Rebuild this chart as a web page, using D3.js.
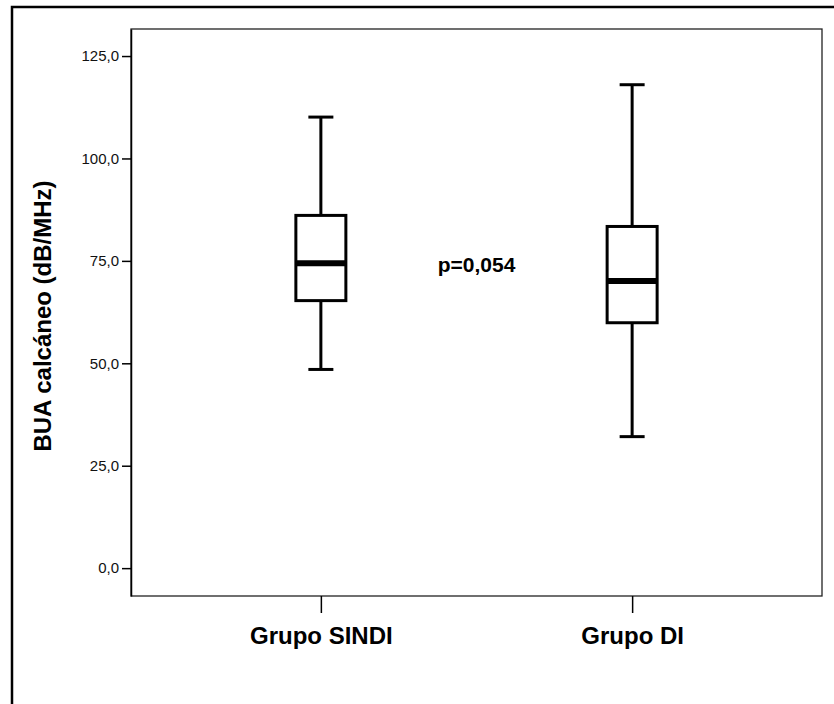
<!DOCTYPE html>
<html>
<head>
<meta charset="utf-8">
<script src="https://cdn.jsdelivr.net/npm/d3@7"></script>
<style>
  html, body { margin: 0; padding: 0; background: #fff; }
  svg { display: block; font-family: Arial, "Liberation Sans", sans-serif; }
</style>
</head>
<body>
<div id="chart"></div>
<script>
// Box plot values
var groups = ['Grupo SINDI', 'Grupo DI'];
var mins = [48.5, 32.1];
var q1s = [65.3, 59.9];
var medians = [74.4, 70.1];
var q3s = [86.1, 83.4];
var maxs = [110.1, 118.0];
var yTicks = [0, 25, 50, 75, 100, 125];
var pText = 'p=0,054';

var width = 834;
var height = 704;
var plot = { left: 131, right: 822, top: 29, bottom: 596 };

var svg = d3.select('#chart')
    .append('svg')
    .attr('width', width)
    .attr('height', height);

// outer frame (right and bottom run off the picture)
svg.append('rect')
    .attr('x', 12)
    .attr('y', 7)
    .attr('width', 840)
    .attr('height', 720)
    .attr('fill', 'none')
    .attr('stroke', '#000')
    .attr('stroke-width', 2.5);

// plot frame
svg.append('rect')
    .attr('x', plot.left)
    .attr('y', plot.top)
    .attr('width', plot.right - plot.left)
    .attr('height', plot.bottom - plot.top)
    .attr('fill', '#fff')
    .attr('stroke', '#222')
    .attr('stroke-width', 1.3);

var x = d3.scalePoint()
    .domain(groups)
    .range([plot.left, plot.right])
    .padding(0.61);

var y = d3.scaleLinear()
    .domain([-6.8, 131.6])
    .range([plot.bottom, plot.top]);

var fmt = d3.formatLocale({ decimal: ',', thousands: '.', grouping: [3], currency: ['', ''] }).format('.1f');

// y axis
var yAxis = svg.append('g')
    .attr('transform', `translate(${plot.left}, 0)`)
    .call(d3.axisLeft(y).tickValues(yTicks).tickSize(9).tickSizeOuter(0).tickPadding(3).tickFormat(fmt));
yAxis.select('.domain').attr('stroke', '#000').attr('stroke-width', 1.5);
yAxis.selectAll('.tick line').attr('stroke', '#000').attr('stroke-width', 1.5);
yAxis.selectAll('.tick text')
    .attr('font-size', '15px')
    .attr('fill', '#111')
    .attr('font-family', 'Arial, "Liberation Sans", sans-serif');

// x axis
var xAxis = svg.append('g')
    .attr('transform', `translate(0, ${plot.bottom})`)
    .call(d3.axisBottom(x).tickSize(17).tickPadding(14));
xAxis.select('.domain').remove();
xAxis.selectAll('.tick line').attr('stroke', '#000').attr('stroke-width', 1.5);
xAxis.selectAll('.tick text')
    .attr('font-size', '24px')
    .attr('font-weight', 'bold')
    .attr('fill', '#000')
    .attr('font-family', 'Arial, "Liberation Sans", sans-serif');

// y axis title
svg.append('text')
    .attr('transform', 'translate(51, 316) rotate(-90)')
    .attr('text-anchor', 'middle')
    .attr('font-size', '24px')
    .attr('font-weight', 'bold')
    .text('BUA calcáneo (dB/MHz)');

// boxes
var boxW = 50;
var capW = 25;
var data = groups.map((g, i) => ({
    group: g, min: mins[i], q1: q1s[i], med: medians[i], q3: q3s[i], max: maxs[i]
}));

var box = svg.append('g')
    .selectAll('g')
    .data(data)
    .join('g')
    .attr('stroke', '#000');

// whiskers
box.append('line')
    .attr('x1', d => x(d.group))
    .attr('x2', d => x(d.group))
    .attr('y1', d => y(d.max))
    .attr('y2', d => y(d.q3))
    .attr('stroke-width', 3);
box.append('line')
    .attr('x1', d => x(d.group))
    .attr('x2', d => x(d.group))
    .attr('y1', d => y(d.q1))
    .attr('y2', d => y(d.min))
    .attr('stroke-width', 3);

// caps
box.append('line')
    .attr('x1', d => x(d.group) - capW / 2)
    .attr('x2', d => x(d.group) + capW / 2)
    .attr('y1', d => y(d.max))
    .attr('y2', d => y(d.max))
    .attr('stroke-width', 3);
box.append('line')
    .attr('x1', d => x(d.group) - capW / 2)
    .attr('x2', d => x(d.group) + capW / 2)
    .attr('y1', d => y(d.min))
    .attr('y2', d => y(d.min))
    .attr('stroke-width', 3);

// box
box.append('rect')
    .attr('x', d => x(d.group) - boxW / 2)
    .attr('y', d => y(d.q3))
    .attr('width', boxW)
    .attr('height', d => y(d.q1) - y(d.q3))
    .attr('fill', '#fff')
    .attr('stroke-width', 3);

// median
box.append('line')
    .attr('x1', d => x(d.group) - boxW / 2)
    .attr('x2', d => x(d.group) + boxW / 2)
    .attr('y1', d => y(d.med))
    .attr('y2', d => y(d.med))
    .attr('stroke-width', 6);

// p value
svg.append('text')
    .attr('x', (x(groups[0]) + x(groups[1])) / 2)
    .attr('y', y(75) + 11)
    .attr('text-anchor', 'middle')
    .attr('font-size', '21px')
    .attr('font-weight', 'bold')
    .text(pText);
</script>
</body>
</html>
